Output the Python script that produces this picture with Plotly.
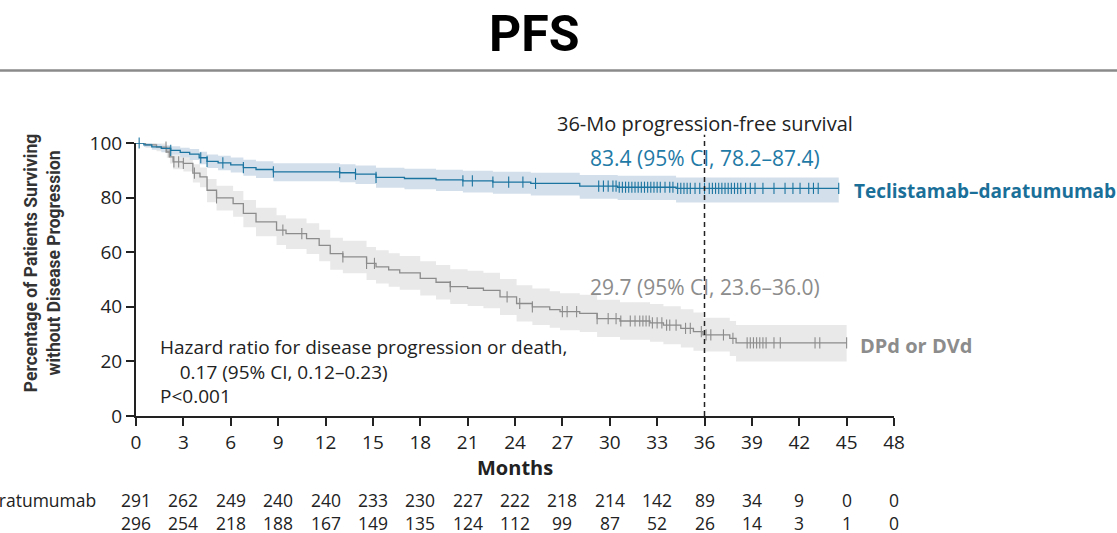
import numpy as np
import plotly.graph_objects as go

# ---- Kaplan-Meier estimates (months, % progression-free) ----
tec_t = [0, 0.5, 1.0, 1.6, 2.2, 2.8, 3.4, 4.0, 4.5, 5.2, 6.0, 6.8, 7.6, 8.7, 12.9, 13.9,
         15.2, 17.0, 19.0, 20.7, 22.6, 25.0, 28.1, 30.5, 34.2, 44.5]
tec_s = [100, 99.3, 98.6, 98.0, 97.3, 96.6, 95.9, 94.6, 93.3, 92.7, 92.0, 91.0, 90.3, 89.4, 89.1, 88.6,
         87.4, 87.0, 86.5, 86.1, 85.7, 85.2, 84.2, 83.8, 83.4, 83.4]
tec_lo = [100, 98.5, 97.5, 96.6, 95.7, 94.8, 93.8, 92.2, 90.8, 90.0, 89.2, 88.0, 87.2, 86.0, 85.6, 85.0,
          83.6, 83.1, 82.4, 81.9, 81.4, 80.8, 79.6, 79.1, 78.2, 78.2]
tec_hi = [100, 100, 99.6, 99.2, 98.8, 98.3, 97.8, 96.8, 95.8, 95.3, 94.7, 93.9, 93.3, 92.6, 92.2, 91.8,
          90.9, 90.6, 90.2, 89.8, 89.5, 89.1, 88.3, 88.0, 87.4, 87.4]
tec_censor = [0.2, 2.2, 4.1, 4.5, 5.5, 6.8, 8.7, 12.9, 13.9, 15.2, 20.7, 21.3, 22.6, 23.6, 24.5, 25.3,
              29.3, 29.6, 29.9, 30.2, 30.4, 30.6, 30.8, 31.0, 31.2, 31.4, 31.6, 31.8, 32.0, 32.2, 32.4,
              32.6, 32.8, 33.0, 33.2, 33.5, 33.8, 34.0, 34.3, 34.5, 34.7, 34.9, 35.1, 35.4, 35.7, 36.0,
              36.3, 36.5, 36.7, 36.9, 37.1, 37.3, 37.5, 37.7, 37.9, 38.1, 38.3, 38.6, 38.9, 39.2, 39.7,
              40.4, 41.1, 41.6, 42.05, 42.6, 42.9, 43.2, 44.5]

ctl_t = [0, 0.6, 1.3, 1.95, 2.15, 2.35, 3.0, 3.6, 4.05, 4.5, 5.1, 6.15, 6.8, 7.6, 8.9, 9.5, 10.8, 11.6,
         12.3, 13.1, 14.6, 15.2, 16.0, 16.7, 18.0, 19.0, 19.9, 21.0, 22.0, 23.05, 24.1, 25.1, 26.2,
         26.85, 28.1, 29.2, 30.65, 32.55, 33.4, 34.5, 35.3, 35.9, 37.6, 38.0, 45.0]
ctl_s = [100, 99.3, 98.5, 96.7, 94.9, 93.1, 92.5, 89.0, 87.6, 82.7, 79.9, 77.8, 74.2, 71.1, 68.1, 66.8,
         65.0, 62.5, 59.5, 58.3, 55.9, 54.6, 53.5, 52.4, 50.4, 49.0, 47.4, 46.8, 46.0, 43.6, 41.2, 40.0,
         39.0, 38.2, 37.6, 35.7, 34.8, 34.1, 33.3, 32.1, 30.9, 29.7, 28.4, 26.8, 26.8]
ctl_lo = [100, 98.3, 97.0, 94.6, 92.5, 90.4, 89.6, 85.5, 83.8, 78.3, 75.3, 73.0, 69.1, 65.8, 62.6, 61.2,
          59.3, 56.7, 53.6, 52.3, 49.8, 48.5, 47.3, 46.2, 44.1, 42.7, 41.0, 40.3, 39.5, 37.0, 34.6, 33.3,
          32.3, 31.4, 30.8, 28.9, 27.9, 27.2, 26.3, 25.1, 23.9, 23.6, 22.0, 20.0, 20.0]
ctl_hi = [100, 100, 99.8, 98.4, 97.0, 95.5, 95.0, 92.2, 91.0, 86.8, 84.3, 82.4, 79.1, 76.3, 73.5, 72.3,
          70.6, 68.2, 65.3, 64.2, 61.9, 60.7, 59.6, 58.6, 56.7, 55.3, 53.8, 53.2, 52.5, 50.2, 47.9, 46.7,
          45.7, 45.0, 44.4, 42.6, 41.7, 41.0, 40.2, 39.1, 37.9, 36.0, 34.8, 33.3, 33.3]
ctl_censor = [1.9, 2.1, 2.4, 2.7, 3.0, 3.7, 5.1, 9.3, 10.5, 13.1, 14.6, 15.1, 19.9, 23.5, 24.3, 25.1,
              27.0, 27.3, 27.9, 29.2, 29.9, 30.4, 30.7, 31.3, 31.6, 31.9, 32.1, 32.3, 32.5, 32.7, 33.0,
              33.3, 33.6, 33.8, 34.2, 34.8, 35.1, 35.8, 36.1, 36.4, 37.2, 37.8, 38.7, 38.9, 39.1, 39.3,
              39.5, 39.7, 39.9, 40.4, 40.8, 43.0, 43.3, 45.0]

# ---- numbers at risk ----
risk_months = [0, 3, 6, 9, 12, 15, 18, 21, 24, 27, 30, 33, 36, 39, 42, 45, 48]
risk_tec = [291, 262, 249, 240, 240, 233, 230, 227, 222, 218, 214, 142, 89, 34, 9, 0, 0]
risk_ctl = [296, 254, 218, 188, 167, 149, 135, 124, 112, 99, 87, 52, 26, 14, 3, 1, 0]

x_ticks = [0, 3, 6, 9, 12, 15, 18, 21, 24, 27, 30, 33, 36, 39, 42, 45, 48]
y_ticks = [0, 20, 40, 60, 80, 100]

arm_names = ["Teclistamab\u2013daratumumab", "DPd or DVd"]
landmark = 36
tec_36 = "83.4 (95% CI, 78.2\u201387.4)"
ctl_36 = "29.7 (95% CI, 23.6\u201336.0)"
hr_lines = ["Hazard ratio for disease progression or death,",
            "&nbsp;&nbsp;&nbsp;&nbsp;0.17 (95% CI, 0.12\u20130.23)",
            "P&lt;0.001"]

BLUE = "#1b74a0"
BLUE_BAND = "#d3dfea"
GREY = "#8c8c8c"
GREY_BAND = "#e9e9e9"
INK = "#222222"
FONT = "Open Sans"
HEAD = "Roboto"


def step_value(times, surv, at):
    idx = np.searchsorted(np.asarray(times), np.asarray(at), side="right") - 1
    return np.asarray(surv)[np.clip(idx, 0, len(surv) - 1)]


fig = go.Figure()

for t, lo, hi, band in [(ctl_t, ctl_lo, ctl_hi, GREY_BAND), (tec_t, tec_lo, tec_hi, BLUE_BAND)]:
    fig.add_trace(go.Scatter(x=t, y=lo, mode="lines", line=dict(width=0, shape="hv"),
                             hoverinfo="skip", showlegend=False))
    fig.add_trace(go.Scatter(x=t, y=hi, mode="lines", line=dict(width=0, shape="hv"),
                             fill="tonexty", fillcolor=band, hoverinfo="skip", showlegend=False))

for t, s, cens, col in [(ctl_t, ctl_s, ctl_censor, GREY), (tec_t, tec_s, tec_censor, BLUE)]:
    fig.add_trace(go.Scatter(x=t, y=s, mode="lines", line=dict(color=col, width=1.3, shape="hv"),
                             cliponaxis=False, showlegend=False))
    fig.add_trace(go.Scatter(x=cens, y=step_value(t, s, cens), mode="markers", cliponaxis=False,
                             marker=dict(symbol="line-ns", size=8, line=dict(color=col, width=1.1)),
                             showlegend=False))

# landmark line at 36 months
fig.add_shape(type="line", xref="x", yref="paper", x0=landmark, x1=landmark, y0=0, y1=1.03,
              line=dict(color=INK, width=1.5, dash="5px,4px"))

# header rule
fig.add_shape(type="line", xref="paper", yref="paper", x0=-0.2, x1=1.32, y0=1.266, y1=1.266,
              line=dict(color="#8a8a8a", width=2.5))


def note(text, x, y, xref="x", yref="y", xanchor="center", size=19, color=INK, family=FONT, **kw):
    return dict(text=text, x=x, y=y, xref=xref, yref=yref, xanchor=xanchor, yanchor="middle",
                showarrow=False, font=dict(family=family, size=size, color=color), **kw)


ann = [
    note("<b>PFS</b>", 0.525, 1.40, xref="paper", yref="paper", size=50, color="#000", family=HEAD),
    note("36-Mo progression-free survival", landmark, 1.072, yref="paper", size=20),
    note(tec_36, landmark, 94.4, size=21, color="#1f7aa6"),
    note(ctl_36, landmark, 47.2, size=21, color=GREY),
    note("<br>".join(hr_lines), 1.39, 16.3, xanchor="left", size=19, align="left"),
    note("<b>" + arm_names[0] + "</b>", 45.35, 82.3, xanchor="left", size=19, color="#1a6f99"),
    note("<b>" + arm_names[1] + "</b>", 45.75, 26.0, xanchor="left", size=20, color=GREY),
    note("<b>Months</b>", 24, -0.19, yref="paper", size=20),
    note("<b>Percentage of Patients Surviving<br>without Disease Progression</b>",
         -0.124, 0.56, xref="paper", yref="paper", size=17.5, color="#333", family=HEAD,
         textangle=-90),
]

# numbers at risk: one two-row column per tick
risk_y = -0.3494
ann.append(note("<br>".join(arm_names), -0.351, risk_y, xref="paper", yref="paper",
                xanchor="left", size=17.5, align="left"))
for m, a, b in zip(risk_months, risk_tec, risk_ctl):
    ann.append(note(f"{a}<br>{b}", m, risk_y, yref="paper", size=17.5))

fig.update_layout(
    width=1117, height=533,
    margin=dict(l=136, r=223, t=143, b=117),
    paper_bgcolor="white", plot_bgcolor="white",
    annotations=ann,
    xaxis=dict(range=[0, 48], tickvals=x_ticks, ticktext=[str(v) for v in x_ticks],
               showline=True, linecolor=INK, linewidth=2, ticks="outside", ticklen=8,
               tickwidth=2, tickcolor=INK, showgrid=False, zeroline=False,
               tickfont=dict(family=FONT, size=19, color=INK)),
    yaxis=dict(range=[0, 100], tickvals=y_ticks, showline=True, linecolor=INK, linewidth=2,
               ticks="outside", ticklen=8, tickwidth=2, tickcolor=INK, showgrid=False,
               zeroline=False, tickfont=dict(family=FONT, size=19, color=INK)),
)

fig.write_html("out.html")
